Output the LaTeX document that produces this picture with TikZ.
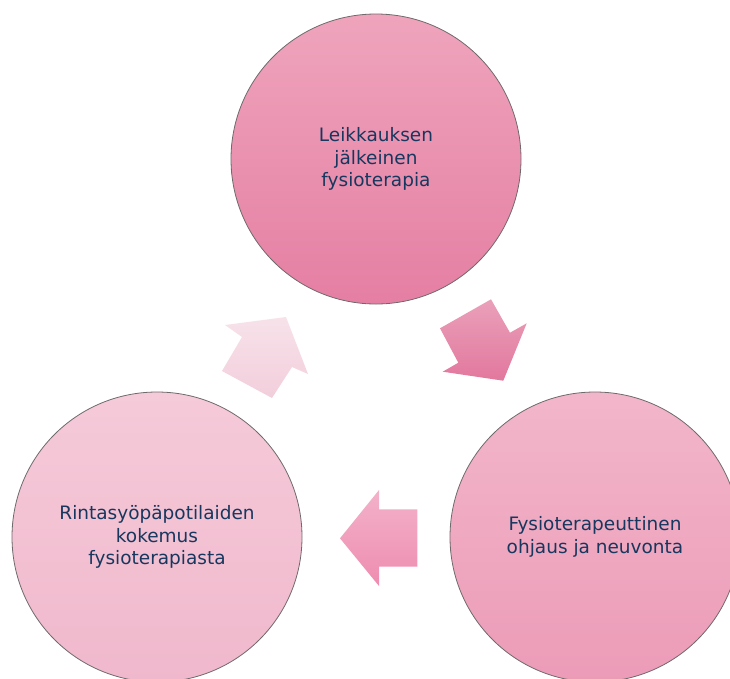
\documentclass[tikz,border=0pt]{standalone}
\usepackage{fontspec}
\setmainfont{DejaVu Sans}
\definecolor{txt}{RGB}{23,55,94}
\definecolor{edge}{RGB}{110,105,108}
\definecolor{topA}{RGB}{239,164,188}
\definecolor{topB}{RGB}{229,127,163}
\definecolor{rtA}{RGB}{242,182,202}
\definecolor{rtB}{RGB}{236,155,183}
\definecolor{lfA}{RGB}{245,202,217}
\definecolor{lfB}{RGB}{240,184,204}
\definecolor{arAa}{RGB}{247,226,234}
\definecolor{arAb}{RGB}{242,206,219}
\definecolor{arBa}{RGB}{234,160,186}
\definecolor{arBb}{RGB}{226,120,157}
\definecolor{arCa}{RGB}{243,178,201}
\definecolor{arCb}{RGB}{238,140,176}
\tikzset{
  bubble/.style={circle, draw=edge, line width=0.8pt, minimum size=290pt,
    inner sep=0pt, align=center, text=txt,
    font=\fontsize{18.5}{22.5}\selectfont},
}
\begin{document}
\begin{tikzpicture}[x=1pt,y=-1pt]
\useasboundingbox (0,0) rectangle (730,678);
\clip (0,0) rectangle (730,678);
% circles
\node[bubble, top color=topA, bottom color=topB] (top) at (376,159)
  {Leikkauksen\\jälkeinen\\fysioterapia};
\node[bubble, top color=rtA, bottom color=rtB] (right) at (595,537)
  {Fysioterapeuttinen\\ohjaus ja neuvonta};
\node[bubble, top color=lfA, bottom color=lfB] (left) at (157,537)
  {Rintasyöpäpotilaiden\\kokemus\\fysioterapiasta};
% block arrows
\shade[top color=arAa, bottom color=arAb]
  (225,325) -- (286,317) -- (308,374) -- (292,367) -- (272,398)
  -- (222,371) -- (242,337) -- cycle;
\shade[top color=arBa, bottom color=arBb]
  (440,328.3) -- (491,299.3) -- (510,332.7) -- (526.7,323.3)
  -- (503.3,380.7) -- (442.7,371.7) -- (458.3,362.7) -- cycle;
\shade[top color=arCa, bottom color=arCb]
  (340,538.3) -- (379,490) -- (379,509.3) -- (417.3,509.3)
  -- (417.3,566.7) -- (379,566.7) -- (379,586) -- cycle;
\end{tikzpicture}
\end{document}
